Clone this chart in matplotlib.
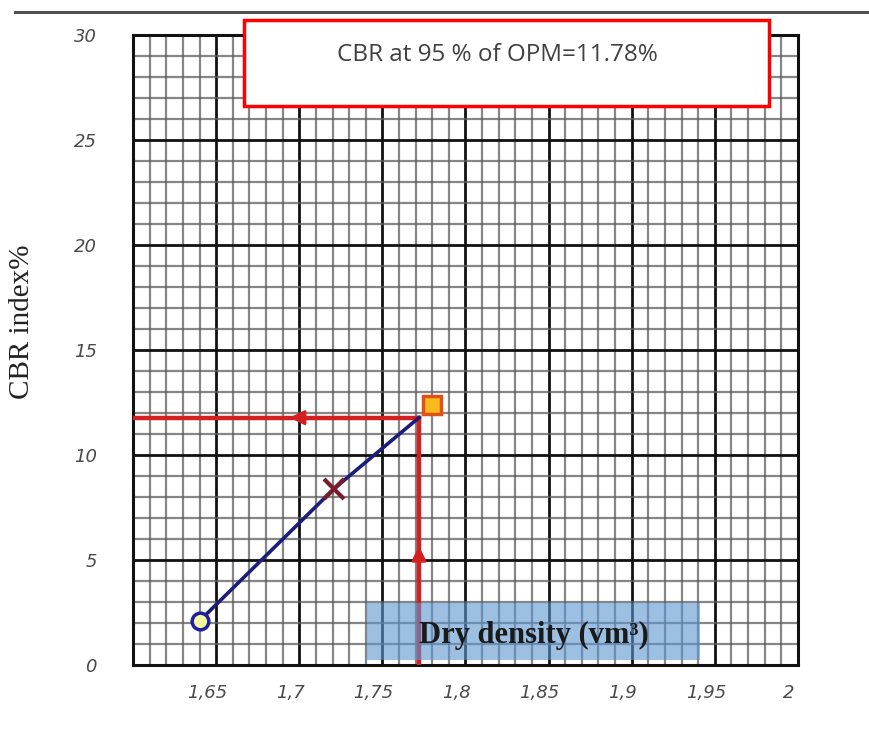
import numpy as np
import matplotlib.pyplot as plt
import matplotlib.transforms as mtransforms
from matplotlib.lines import Line2D
from matplotlib.patches import Rectangle

# CBR vs dry density curve
density = [1.640, 1.721, 1.772]
cbr = [2.1, 8.4, 11.78]

# 95 % OPM point and the reading lines
opm_density = 1.780
opm_cbr = 12.4
read_density = 1.772
read_cbr = 11.78

x_ticks = [1.65, 1.70, 1.75, 1.80, 1.85, 1.90, 1.95, 2.00]
x_labels = ['1,65', '1,7', '1,75', '1,8', '1,85', '1,9', '1,95', '2']
y_ticks = [0, 5, 10, 15, 20, 25, 30]

fig = plt.figure(figsize=(8.7, 7.35), dpi=100)
ax = fig.add_axes([0.1529, 0.0952, 0.7643, 0.8572])
ax.set_xlim(1.60, 2.00)
ax.set_ylim(0, 30)

# graph paper grid
ax.set_xticks(np.arange(1.60, 2.001, 0.01), minor=True)
ax.set_yticks(np.arange(0, 30.1, 1), minor=True)
ax.grid(which='minor', color='#5e5e5e', lw=1.6, alpha=0.75)
ax.grid(which='major', color='#111111', lw=2.0)
ax.set_axisbelow(True)
for s in ax.spines.values():
    s.set_linewidth(2.2)
    s.set_color('#111111')

ax.set_xticks(x_ticks)
ax.set_xticklabels(x_labels)
ax.set_yticks(y_ticks)
ax.set_yticklabels([str(v) for v in y_ticks])
ax.tick_params(which='both', length=0)
ax.tick_params(axis='x', pad=14, labelsize=13, labelcolor='#4a4a4a')
ax.tick_params(axis='y', pad=26, labelsize=13, labelcolor='#4a4a4a')
shift = mtransforms.ScaledTranslation(-9 / 100, 0, fig.dpi_scale_trans)
for lab in ax.get_xticklabels():
    lab.set_fontstyle('italic')
    lab.set_transform(lab.get_transform() + shift)
for lab in ax.get_yticklabels():
    lab.set_fontstyle('italic')

# red reading lines with arrows
ax.plot([1.60, read_density], [read_cbr, read_cbr], color='#d42020', lw=3.2, zorder=3)
ax.plot([read_density, read_density], [0, read_cbr], color='#d42020', lw=3.2, zorder=3)
ax.annotate('', xy=(1.6926, read_cbr), xytext=(1.705, read_cbr),
            arrowprops=dict(arrowstyle='-|>', color='#d42020', lw=2, mutation_scale=22), zorder=4)
ax.annotate('', xy=(read_density, 5.8), xytext=(read_density, 4.6),
            arrowprops=dict(arrowstyle='-|>', color='#d42020', lw=2, mutation_scale=22), zorder=4)

# measured curve
ax.plot(density, cbr, color='#1c1c7a', lw=2.6, zorder=5)
ax.plot(density[0], cbr[0], 'o', ms=12, mfc='#f4f7a0', mec='#1f1fa0', mew=2.5, zorder=6)
ax.plot(density[1], cbr[1], 'x', ms=14, color='#7a1c2c', mew=3, zorder=6)
ax.plot(opm_density, opm_cbr, 's', ms=13, mfc='#f9b91c', mec='#e0501a', mew=2.5, zorder=6)

# result box at the top
fig.patches.append(Rectangle((244 / 870, 1 - 106 / 735), 525 / 870, 86 / 735,
                             transform=fig.transFigure, facecolor='white',
                             edgecolor='#ff0000', lw=2.5, zorder=10))
fig.text(497 / 870, 1 - 55 / 735, 'CBR at 95 % of OPM=11.78%', ha='center', va='center',
         fontsize=17.5, color='#404040', family='Open Sans', zorder=11)

# x label on blue band
fig.patches.append(Rectangle((367 / 870, 1 - 660 / 735), 333 / 870, 57 / 735,
                             transform=fig.transFigure, facecolor='#5b95d0',
                             edgecolor='none', alpha=0.6, zorder=10))
fig.text(534 / 870, 1 - 635 / 735, 'Dry density (vm³)', ha='center', va='center',
         fontsize=22, fontweight='bold', family='Liberation Serif', color='#1a1a1a', zorder=11)

fig.text(22 / 870, 1 - 322 / 735, 'CBR index%', rotation=90, ha='center', va='center',
         fontsize=21, family='Liberation Serif', color='#222222')

# dark rule across the top
fig.add_artist(Line2D([15 / 870, 1.0], [1 - 12 / 735, 1 - 12 / 735], transform=fig.transFigure,
                      color='#505050', lw=2.2))

fig.savefig('out.png', dpi=100)
